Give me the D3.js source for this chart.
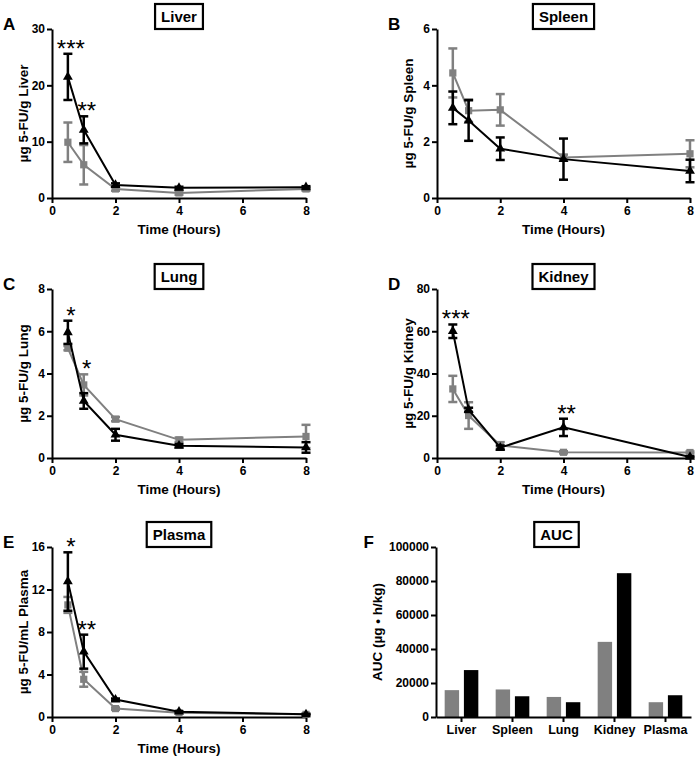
<!DOCTYPE html>
<html>
<head>
<meta charset="utf-8">
<script src="https://cdn.jsdelivr.net/npm/d3@7"></script>
<style>
  body { margin: 0; background: #fff; }
  text { font-family: Arial, "Liberation Sans", sans-serif; }
</style>
</head>
<body>
<svg id="chart" width="697" height="759"></svg>
<script>
const times = [0.5, 1, 2, 4, 8];
const xTicks = [0, 2, 4, 6, 8];

const liverGray = [9.9, 5.9, 1.6, 0.9, 1.6];
const liverGrayErr = [3.5, 3.5, 0.3, 0.3, 0.3];
const liverBlack = [21.5, 12.1, 2.3, 1.8, 1.9];
const liverBlackErr = [4.1, 2.4, 0.3, 0.2, 0.2];
const liverStars = [{ t: 0.5, label: "***" }, { t: 1, label: "**" }];

const spleenGray = [4.44, 3.1, 3.13, 1.44, 1.57];
const spleenGrayErr = [0.87, 0.4, 0.56, 0.1, 0.48];
const spleenBlack = [3.2, 2.75, 1.75, 1.38, 0.96];
const spleenBlackErr = [0.58, 0.72, 0.4, 0.73, 0.4];
const spleenStars = [];

const lungGray = [5.2, 3.46, 1.84, 0.86, 1.02];
const lungGrayErr = [0.1, 0.5, 0.1, 0.1, 0.55];
const lungBlack = [5.95, 2.7, 1.1, 0.58, 0.5];
const lungBlackErr = [0.55, 0.37, 0.28, 0.08, 0.25];
const lungStars = [{ t: 0.5, label: "*" }, { t: 1, label: "*" }];

const kidneyGray = [32.7, 20.1, 6.0, 2.7, 2.6];
const kidneyGrayErr = [6.2, 6.3, 1.5, 0.5, 0.5];
const kidneyBlack = [60, 22.8, 4.9, 14.5, 0.5];
const kidneyBlackErr = [3.2, 1.0, 1.0, 4.1, 0.3];
const kidneyStars = [{ t: 0.5, label: "***" }, { t: 4, label: "**" }];

const plasmaGray = [10.55, 3.55, 0.79, 0.4, 0.25];
const plasmaGrayErr = [0.75, 0.7, 0.1, 0.05, 0.05];
const plasmaBlack = [12.75, 6.15, 1.64, 0.5, 0.25];
const plasmaBlackErr = [2.75, 1.6, 0.1, 0.05, 0.05];
const plasmaStars = [{ t: 0.5, label: "*" }, { t: 1, label: "**" }];

const aucCategories = ["Liver", "Spleen", "Lung", "Kidney", "Plasma"];
const aucGray = [15800, 16200, 11800, 44200, 8700];
const aucBlack = [27600, 12200, 8700, 84600, 12800];
const aucTicks = [0, 20000, 40000, 60000, 80000, 100000];

const GRAY = "#808080";
const BLACK = "#000";

const svg = d3.select("#chart");

const COLS = [{ x0: 52, x1: 306 }, { x0: 437, x1: 690 }];
const ROWS = [{ y0: 29, y1: 198 }, { y0: 289, y1: 458 }, { y0: 547, y1: 717 }];

const panels = [
  { letter: "A", title: "Liver", yLabel: "\u00b5g 5-FU/g Liver", yTicks: [0, 10, 20, 30],
    gray: liverGray, grayErr: liverGrayErr, black: liverBlack, blackErr: liverBlackErr, stars: liverStars, col: 0, row: 0 },
  { letter: "B", title: "Spleen", yLabel: "\u00b5g 5-FU/g Spleen", yTicks: [0, 2, 4, 6],
    gray: spleenGray, grayErr: spleenGrayErr, black: spleenBlack, blackErr: spleenBlackErr, stars: spleenStars, col: 1, row: 0 },
  { letter: "C", title: "Lung", yLabel: "\u00b5g 5-FU/g Lung", yTicks: [0, 2, 4, 6, 8],
    gray: lungGray, grayErr: lungGrayErr, black: lungBlack, blackErr: lungBlackErr, stars: lungStars, col: 0, row: 1 },
  { letter: "D", title: "Kidney", yLabel: "\u00b5g 5-FU/g Kidney", yTicks: [0, 20, 40, 60, 80],
    gray: kidneyGray, grayErr: kidneyGrayErr, black: kidneyBlack, blackErr: kidneyBlackErr, stars: kidneyStars, col: 1, row: 1 },
  { letter: "E", title: "Plasma", yLabel: "\u00b5g 5-FU/mL Plasma", yTicks: [0, 4, 8, 12, 16],
    gray: plasmaGray, grayErr: plasmaGrayErr, black: plasmaBlack, blackErr: plasmaBlackErr, stars: plasmaStars, col: 0, row: 2 }
];

function styleAxis(g) {
  g.select(".domain").attr("stroke", BLACK).attr("stroke-width", 2);
  g.selectAll(".tick line").attr("stroke", BLACK).attr("stroke-width", 2);
  g.selectAll(".tick text").attr("fill", BLACK).attr("font-size", 12).attr("font-weight", "bold")
    .attr("font-family", 'Arial, "Liberation Sans", sans-serif');
}

// panel frame: letter, boxed title, y label
function drawFrame(g, x0, x1, y0, y1, letter, letterX, title, yLabel, yLabelOffset, titleShift) {
  g.append("text")
    .attr("x", letterX).attr("y", y0 + 1)
    .attr("font-size", 17).attr("font-weight", "bold")
    .text(letter);

  const cx = (x0 + x1) / 2 + titleShift;
  const t = g.append("text")
    .attr("x", cx).attr("y", y0 - 7.5)
    .attr("text-anchor", "middle")
    .attr("font-size", 15).attr("font-weight", "bold")
    .text(title);
  const tw = t.node().getComputedTextLength();
  g.insert("rect", "text")
    .attr("x", cx - tw / 2 - 6).attr("y", y0 - 25)
    .attr("width", tw + 12).attr("height", 25)
    .attr("fill", "#fff").attr("stroke", BLACK).attr("stroke-width", 2.2);

  g.append("text")
    .attr("transform", `translate(${x0 - yLabelOffset},${(y0 + y1) / 2}) rotate(-90)`)
    .attr("text-anchor", "middle")
    .attr("dominant-baseline", "central")
    .attr("font-size", 13.5).attr("font-weight", "bold")
    .text(yLabel);
}

panels.forEach(p => {
  const { x0, x1 } = COLS[p.col];
  const { y0, y1 } = ROWS[p.row];
  const g = svg.append("g");

  const x = d3.scaleLinear().domain([0, 8]).range([x0, x1]);
  const y = d3.scaleLinear().domain([0, d3.max(p.yTicks)]).range([y1, y0]);

  drawFrame(g, x0, x1, y0, y1, p.letter, x0 - 49, p.title, p.yLabel, 29, 0);

  g.append("g")
    .attr("transform", `translate(0,${y1})`)
    .call(d3.axisBottom(x).tickValues(xTicks).tickFormat(d3.format("d")).tickSize(5).tickSizeOuter(0).tickPadding(3))
    .call(styleAxis);
  g.append("g")
    .attr("transform", `translate(${x0},0)`)
    .call(d3.axisLeft(y).tickValues(p.yTicks).tickFormat(d3.format("d")).tickSize(5).tickSizeOuter(0).tickPadding(2))
    .call(styleAxis);

  g.append("text")
    .attr("x", (x0 + x1) / 2).attr("y", y1 + 36)
    .attr("text-anchor", "middle")
    .attr("font-size", 13.5).attr("font-weight", "bold")
    .text("Time (Hours)");

  const series = [
    { values: p.gray, errs: p.grayErr, color: GRAY, symbol: d3.symbolSquare, size: 52 },
    { values: p.black, errs: p.blackErr, color: BLACK, symbol: d3.symbolTriangle, size: 42 }
  ];

  series.forEach(s => {
    const pts = times.map((t, i) => ({ t, v: s.values[i], e: s.errs[i] }));
    const sg = g.append("g");

    sg.append("path")
      .datum(pts)
      .attr("fill", "none")
      .attr("stroke", s.color)
      .attr("stroke-width", 2)
      .attr("d", d3.line().x(d => x(d.t)).y(d => y(d.v)));

    const eb = sg.selectAll("g.err").data(pts).enter().append("g").attr("class", "err")
      .attr("stroke", s.color).attr("stroke-width", 2.5);
    eb.append("line")
      .attr("x1", d => x(d.t)).attr("x2", d => x(d.t))
      .attr("y1", d => y(d.v + d.e)).attr("y2", d => y(Math.max(0, d.v - d.e)));
    eb.append("line")
      .attr("x1", d => x(d.t) - 4.5).attr("x2", d => x(d.t) + 4.5)
      .attr("y1", d => y(d.v + d.e)).attr("y2", d => y(d.v + d.e));
    eb.append("line")
      .attr("x1", d => x(d.t) - 4.5).attr("x2", d => x(d.t) + 4.5)
      .attr("y1", d => y(Math.max(0, d.v - d.e))).attr("y2", d => y(Math.max(0, d.v - d.e)));

    sg.selectAll("path.mark").data(pts).enter().append("path")
      .attr("class", "mark")
      .attr("fill", s.color)
      .attr("transform", d => `translate(${x(d.t)},${y(d.v)})`)
      .attr("d", d3.symbol(s.symbol, s.size));
  });

  // significance stars above the highest error bar at that time
  p.stars.forEach(st => {
    const i = times.indexOf(st.t);
    const top = Math.max(p.black[i] + p.blackErr[i], p.gray[i] + p.grayErr[i]);
    g.append("text")
      .attr("x", x(st.t) + 3)
      .attr("y", y(top) + 3)
      .attr("text-anchor", "middle")
      .attr("font-size", 24)
      .text(st.label);
  });
});

// Panel F: AUC bars
(function () {
  const x0 = 436, x1 = 691;
  const { y0, y1 } = ROWS[2];
  const g = svg.append("g");

  const x = d3.scaleBand().domain(aucCategories).range([x0, x1]).paddingInner(0.34).paddingOuter(0.17);
  const xs = d3.scaleBand().domain(["gray", "black"]).range([0, x.bandwidth()]).paddingInner(0.25);
  const y = d3.scaleLinear().domain([0, 100000]).range([y1, y0]);

  drawFrame(g, x0, x1, y0, y1, "F", 363.5, "AUC", "AUC (\u00b5g \u2022 h/kg)", 59, -7);

  const rows = aucCategories.map((c, i) => ({ c, gray: aucGray[i], black: aucBlack[i] }));
  const grp = g.selectAll("g.cat").data(rows).enter().append("g")
    .attr("class", "cat")
    .attr("transform", d => `translate(${x(d.c)},0)`);
  grp.selectAll("rect").data(d => [{ k: "gray", v: d.gray }, { k: "black", v: d.black }])
    .enter().append("rect")
    .attr("x", d => xs(d.k))
    .attr("y", d => y(d.v))
    .attr("width", xs.bandwidth())
    .attr("height", d => y1 - y(d.v))
    .attr("fill", d => d.k === "gray" ? GRAY : BLACK);

  g.append("g")
    .attr("transform", `translate(0,${y1})`)
    .call(d3.axisBottom(x).tickSize(5).tickSizeOuter(0).tickPadding(3))
    .call(styleAxis)
    .call(a => a.selectAll(".tick text").attr("font-size", 12.5));
  g.append("g")
    .attr("transform", `translate(${x0},0)`)
    .call(d3.axisLeft(y).tickValues(aucTicks).tickFormat(d3.format("d")).tickSize(5).tickSizeOuter(0).tickPadding(2))
    .call(styleAxis);
})();
</script>
</body>
</html>
